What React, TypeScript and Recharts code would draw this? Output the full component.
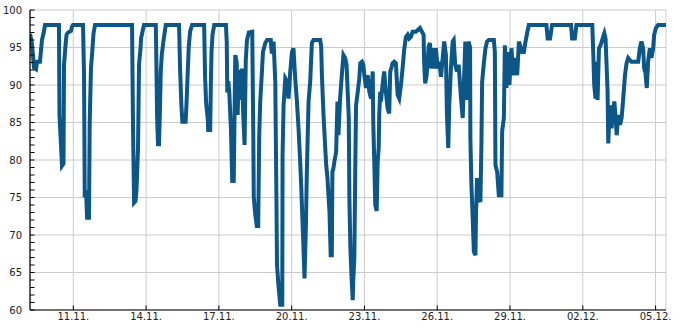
import { LineChart, Line, XAxis, YAxis, CartesianGrid } from 'recharts';

// hours since 09.11. 00:00
const hours = [
  5.2, 7.1, 9.1, 11.1, 12.1, 15.0, 17.0, 19.0, 20.0, 33.8, 34.3, 35.8, 36.8, 38.3, 38.8, 40.3, 41.3, 42.8, 45.7, 46.7,
  47.7, 57.6, 58.6, 59.3, 60.6, 61.6, 63.5, 64.2, 65.5, 66.5, 68.0, 69.5, 106.1, 107.1, 108.1, 109.5, 110.5, 112.0, 113.0, 114.5,
  115.0, 116.4, 117.9, 129.6, 129.9, 130.9, 131.8, 132.8, 133.8, 134.5, 135.5, 137.1, 138.5, 139.5, 152.6, 153.6, 154.9, 155.9, 159.1, 160.0,
  161.0, 162.2, 163.5, 165.5, 177.4, 178.4, 179.4, 181.1, 181.4, 183.4, 184.1, 184.7, 185.7, 187.4, 199.0, 199.8, 200.3, 201.3, 202.3, 203.9,
  205.2, 206.7, 208.2, 209.6, 210.6, 211.6, 213.1, 214.6, 216.1, 217.4, 218.6, 219.8, 221.6, 225.0, 226.0, 226.5, 228.0, 229.5, 230.9, 231.9,
  232.9, 234.6, 235.6, 237.9, 239.8, 243.3, 244.3, 246.1, 247.8, 248.8, 249.5, 250.8, 252.7, 254.7, 255.0, 256.0, 257.7, 259.3, 260.9, 262.6,
  264.3, 265.8, 267.5, 269.2, 270.8, 272.4, 273.4, 275.1, 275.7, 276.7, 278.1, 279.0, 280.7, 282.3, 284.0, 285.6, 292.2, 293.2, 293.9, 295.5,
  297.2, 298.2, 299.4, 300.4, 301.4, 302.6, 303.7, 304.3, 305.3, 306.3, 308.0, 309.3, 310.3, 311.9, 313.6, 315.2, 316.9, 318.3, 320.5, 321.1,
  322.1, 323.3, 324.4, 325.0, 326.0, 327.0, 327.7, 329.4, 330.9, 331.9, 333.6, 334.9, 335.9, 337.5, 339.2, 340.8, 342.5, 344.2, 344.7, 345.7,
  346.7, 348.1, 349.1, 350.1, 350.6, 351.6, 352.3, 353.9, 355.5, 357.2, 358.9, 360.5, 361.5, 362.9, 363.8, 365.4, 367.1, 368.8, 370.4, 372.1,
  373.7, 375.3, 377.0, 378.7, 380.3, 381.9, 383.6, 386.9, 390.9, 394.5, 395.1, 396.1, 397.5, 398.5, 399.5, 400.8, 402.1, 403.5, 405.0, 406.7,
  408.4, 410.0, 411.7, 413.4, 414.9, 416.6, 417.6, 418.9, 419.9, 421.6, 423.3, 424.3, 425.8, 427.5, 429.2, 430.8, 431.8, 433.2, 434.2, 435.8,
  437.5, 439.0, 440.5, 440.8, 441.8, 443.2, 444.2, 445.8, 446.4, 447.4, 449.1, 450.7, 451.7, 452.4, 454.1, 455.7, 457.3, 459.0, 464.0, 465.0,
  465.6, 467.3, 468.9, 471.5, 472.2, 473.9, 474.9, 476.5, 478.1, 479.4, 481.4, 483.1, 485.4, 487.1, 488.8, 492.0, 493.7, 495.3, 496.9, 498.6,
  516.0, 517.2, 519.6, 521.6, 540.4, 541.4, 544.1, 545.7, 561.4, 562.4, 563.3, 564.6, 565.6, 566.6, 568.0, 569.6, 571.6, 573.3, 574.5, 575.5,
  576.5, 577.2, 578.2, 579.5, 580.5, 581.5, 583.2, 584.5, 585.5, 587.1, 588.8, 590.4, 592.0, 593.7, 595.3, 596.9, 598.6, 600.1, 606.8, 608.4,
  610.0, 611.7, 612.7, 614.0, 615.3, 616.6, 618.3, 619.9, 621.6, 622.6, 624.3, 626.5, 634.4,
];

const humidity = [
  96.8, 95.5, 92.3, 92.1, 93.1, 93.1, 96.0, 97.2, 98.0, 98.0, 86.0, 82.0, 79.2, 79.5, 92.7, 95.3, 96.7, 97.0, 97.2, 97.8,
  98.0, 98.0, 91.3, 75.0, 76.0, 72.3, 72.3, 85.0, 92.4, 94.0, 96.9, 98.0, 98.0, 84.0, 74.3, 74.5, 76.0, 81.5, 92.7, 94.9,
  96.2, 97.1, 98.0, 98.0, 95.6, 85.6, 82.1, 82.1, 87.3, 91.8, 94.0, 95.8, 97.1, 98.0, 98.0, 92.2, 87.3, 85.1, 85.1, 87.6,
  91.1, 95.1, 97.1, 98.0, 98.0, 90.9, 87.6, 85.3, 84.0, 84.0, 90.4, 94.4, 96.7, 98.0, 98.0, 95.6, 89.0, 90.5, 89.0, 84.2,
  77.2, 77.2, 94.0, 93.0, 86.0, 92.0, 88.0, 92.2, 86.0, 82.0, 93.3, 96.0, 97.0, 97.1, 84.0, 75.1, 72.7, 71.2, 71.2, 83.3,
  87.8, 91.8, 94.4, 95.6, 96.0, 96.0, 94.2, 95.8, 90.4, 76.7, 66.0, 63.5, 60.7, 60.7, 80.7, 87.3, 90.9, 90.5, 88.2, 91.8,
  94.4, 94.9, 90.9, 87.8, 84.2, 79.8, 76.7, 70.4, 68.2, 64.2, 71.3, 78.4, 87.8, 90.4, 95.6, 96.0, 96.0, 95.1, 91.3, 86.0,
  81.6, 79.3, 77.6, 75.3, 73.1, 67.3, 67.3, 78.4, 78.9, 79.8, 81.1, 87.8, 83.3, 88.2, 91.3, 94.0, 93.6, 92.7, 85.6, 74.9,
  68.2, 64.2, 61.3, 64.2, 66.9, 79.8, 87.3, 89.1, 90.9, 92.9, 93.1, 92.7, 91.3, 89.6, 91.3, 89.1, 88.2, 91.8, 85.1, 79.8,
  74.0, 73.2, 79.8, 81.6, 86.0, 89.1, 87.8, 90.0, 91.8, 89.1, 86.9, 86.2, 91.8, 92.4, 92.9, 93.1, 92.9, 88.7, 88.2, 90.0,
  92.2, 94.7, 96.4, 96.7, 96.2, 96.4, 97.1, 97.1, 97.6, 96.7, 92.7, 90.2, 91.3, 92.9, 95.1, 95.6, 92.2, 94.9, 92.2, 94.9,
  92.2, 93.1, 91.1, 93.6, 95.8, 94.0, 86.0, 81.6, 87.3, 92.4, 95.8, 96.0, 92.7, 91.8, 92.7, 89.6, 87.8, 85.6, 89.6, 95.8,
  88.0, 95.8, 95.0, 82.9, 76.7, 71.8, 67.8, 67.3, 73.1, 77.6, 74.9, 74.4, 82.0, 90.4, 92.9, 94.9, 95.8, 96.0, 96.0, 94.4,
  79.3, 78.4, 75.3, 75.3, 83.8, 85.6, 95.3, 89.6, 94.4, 90.0, 94.9, 91.3, 93.6, 91.3, 95.8, 94.4, 94.4, 95.8, 96.9, 98.0,
  98.0, 96.2, 96.2, 98.0, 98.0, 96.2, 96.2, 98.0, 98.0, 94.0, 90.0, 88.2, 93.1, 88.0, 94.9, 95.3, 96.2, 96.9, 96.2, 92.7,
  89.1, 82.2, 85.6, 87.3, 84.2, 86.4, 87.8, 85.6, 83.3, 86.0, 84.7, 85.6, 88.2, 91.3, 92.9, 93.6, 93.3, 93.1, 93.1, 94.9,
  95.8, 94.9, 92.2, 91.6, 89.6, 93.1, 94.9, 93.6, 94.9, 96.7, 97.6, 98.0, 98.0,
];

const xTicks = [48, 120, 192, 264, 336, 408, 480, 552, 624];
const yTicks = [60, 65, 70, 75, 80, 85, 90, 95, 100];
const yMinorTicks = Array.from({ length: 41 }, (_, i) => 60 + i);

const data = hours.map((h, i) => ({ h, v: humidity[i] }));

function dateLabel(h: number) {
  const day = 9 + Math.round(h / 24);
  if (day > 30) return `${String(day - 30).padStart(2, '0')}.12.`;
  return `${day}.11.`;
}

const NoLabel = () => <g />;

export default function App() {
  return (
    <div style={{ position: 'absolute', left: 0, top: 0, background: '#fff' }}>
      <LineChart
        width={685}
        height={330}
        data={data}
        margin={{ top: 10, right: 19, left: 0, bottom: 0 }}
        style={{ fontFamily: 'DejaVu Sans', fontSize: 10 }}
      >
        <CartesianGrid stroke="#cbcbcb" strokeWidth={1} />
        <XAxis
          type="number"
          dataKey="h"
          domain={[5.15, 634.3]}
          ticks={xTicks}
          interval={0}
          allowDataOverflow
          tickFormatter={dateLabel}
          height={20}
          tickSize={0}
          tickMargin={3}
          tickLine={false}
          axisLine={{ stroke: '#000', strokeWidth: 1.2 }}
          tick={{ fill: '#222', fontSize: 10 }}
        />
        <XAxis
          xAxisId="minor"
          type="number"
          dataKey="h"
          domain={[5.15, 634.3]}
          ticks={xTicks}
          interval={0}
          allowDataOverflow
          mirror
          height={1}
          tick={<NoLabel />}
          axisLine={false}
          tickSize={4.5}
          tickLine={{ stroke: '#000', strokeWidth: 1 }}
        />
        <YAxis
          type="number"
          domain={[60, 100]}
          ticks={yTicks}
          interval={0}
          allowDataOverflow
          width={30}
          tickSize={0}
          tickMargin={8}
          tickLine={false}
          axisLine={{ stroke: '#000', strokeWidth: 1.2 }}
          tick={{ fill: '#222', fontSize: 10 }}
        />
        <YAxis
          yAxisId="minor"
          type="number"
          domain={[60, 100]}
          ticks={yMinorTicks}
          interval={0}
          allowDataOverflow
          mirror
          width={1}
          tick={<NoLabel />}
          axisLine={false}
          tickSize={4.5}
          tickLine={{ stroke: '#000', strokeWidth: 1 }}
        />
        <Line
          type="linear"
          dataKey="v"
          stroke="#0c5787"
          strokeWidth={4}
          dot={false}
          activeDot={false}
          isAnimationActive={false}
        />
      </LineChart>
    </div>
  );
}
